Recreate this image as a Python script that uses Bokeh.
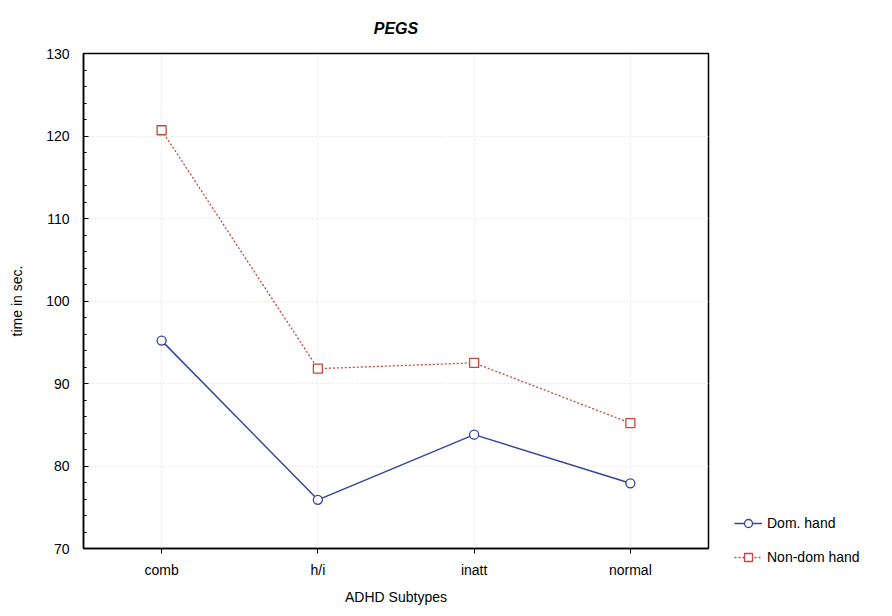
from bokeh.plotting import figure
from bokeh.models import Legend, LegendItem, FixedTicker, Range1d, FactorRange
from bokeh.embed import file_html
from bokeh.resources import INLINE

categories = ["comb", "h/i", "inatt", "normal"]
dom_hand = [95.2, 75.9, 83.8, 77.9]
nondom_hand = [120.7, 91.8, 92.5, 85.2]
y_ticks = [70, 80, 90, 100, 110, 120, 130]

FONT = "Liberation Sans"
BLUE = "#34449a"
RED = "#c8463c"

p = figure(frame_width=625, frame_height=495, x_range=FactorRange(*categories, range_padding=0),
           y_range=Range1d(70, 130), output_backend="svg", toolbar_location=None,
           title="PEGS", min_border_left=83, min_border_right=0,
           min_border_top=53, min_border_bottom=52)

p.title.align = "center"
p.title.text_font = FONT
p.title.text_font_style = "bold italic"
p.title.text_font_size = "16px"
p.title.text_color = "black"
p.title.standoff = 34

p.outline_line_color = "black"
p.outline_line_width = 1.5

for ax in (p.xaxis[0], p.yaxis[0]):
    ax.axis_line_width = 1.5
    ax.major_label_text_font = FONT
    ax.major_label_text_font_size = "14px"
    ax.major_label_text_color = "black"
    ax.axis_label_text_font = FONT
    ax.axis_label_text_font_size = "14px"
    ax.axis_label_text_font_style = "normal"
    ax.axis_label_text_color = "black"

p.xaxis.axis_label = "ADHD Subtypes"
p.yaxis.axis_label = "time in sec."
p.yaxis.ticker = FixedTicker(ticks=y_ticks, minor_ticks=list(range(70, 131, 2)))
p.yaxis.major_tick_in = 5
p.yaxis.major_tick_out = 0
p.yaxis.minor_tick_in = 3
p.yaxis.minor_tick_out = 0
p.yaxis.major_label_standoff = 14
p.yaxis.axis_label_standoff = 18
p.xaxis.major_tick_in = 0
p.xaxis.major_tick_out = 5
p.xaxis.major_label_standoff = 8
p.xaxis.axis_label_standoff = 8

p.xgrid.grid_line_color = "#e8e8e8"
p.ygrid.grid_line_color = "#e8e8e8"
p.xgrid.grid_line_dash = "2 2"
p.ygrid.grid_line_dash = "2 2"

l1 = p.line(categories, dom_hand, line_color=BLUE, line_width=1.5)
m1 = p.scatter(categories, dom_hand, marker="circle", size=9, line_color=BLUE,
               fill_color="white", line_width=1.3)
l2 = p.line(categories, nondom_hand, line_color=RED, line_width=1.3, line_dash="2 2")
m2 = p.scatter(categories, nondom_hand, marker="square", size=9, line_color=RED,
               fill_color="white", line_width=1.3)

legend = Legend(items=[LegendItem(label="Dom. hand", renderers=[l1, m1]),
                       LegendItem(label="Non-dom hand", renderers=[l2, m2])],
                location=(26, -19), border_line_color=None, background_fill_alpha=0,
                label_text_font=FONT, label_text_font_size="14px", label_text_color="black",
                glyph_width=28, spacing=14, padding=4, margin=14)
p.add_layout(legend, "right")

open("out.html", "w").write(file_html(p, INLINE))
